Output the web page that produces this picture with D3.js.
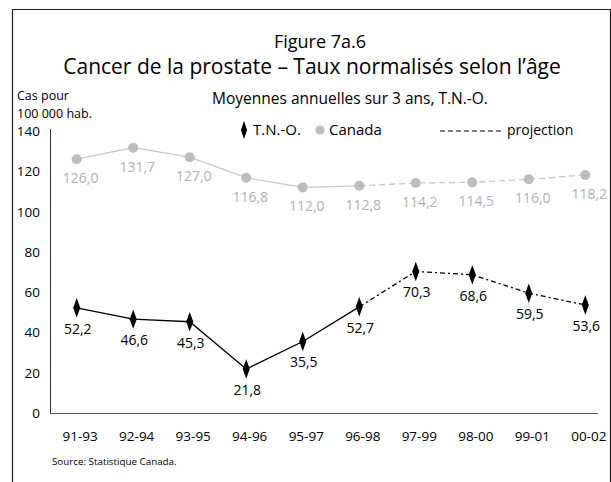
<!DOCTYPE html>
<html lang="fr">
<head>
<meta charset="UTF-8">
<title>Figure 7a.6</title>
<script src="https://d3js.org/d3.v7.min.js"></script>
<style>
  body { margin: 0; background: #fff; }
  svg text { font-family: "Open Sans", "Noto Sans", sans-serif; fill: #000; }
</style>
</head>
<body>
<svg id="chart" width="611" height="482"></svg>
<script>
  // data
  const periods = ["91-93", "92-94", "93-95", "94-96", "95-97", "96-98", "97-99", "98-00", "99-01", "00-02"];
  const tno = [52.2, 46.6, 45.3, 21.8, 35.5, 52.7, 70.3, 68.6, 59.5, 53.6];
  const canada = [126.0, 131.7, 127.0, 116.8, 112.0, 112.8, 114.2, 114.5, 116.0, 118.2];
  const yTicks = [0, 20, 40, 60, 80, 100, 120, 140];
  const lastActual = "96-98"; // after this, projection

  const svg = d3.select("#chart");

  // frame
  svg.append("path")
    .attr("d", "M12.5,482 V9.5 H610.5 V482")
    .attr("fill", "none").attr("stroke", "#222").attr("stroke-width", 1.2);

  const x = d3.scalePoint().domain(periods).range([76.7, 585.3]);
  const y = d3.scaleLinear().domain([0, 140]).range([413, 131]);
  const fmt = v => v.toFixed(1).replace(".", ",");

  // titles
  svg.append("text").attr("x", 320).attr("y", 48).attr("text-anchor", "middle")
    .style("font-size", "18px").text("Figure 7a.6");
  svg.append("text").attr("x", 312).attr("y", 74).attr("text-anchor", "middle")
    .style("font-size", "21px").text("Cancer de la prostate – Taux normalisés selon l’âge");
  svg.append("text").attr("x", 350).attr("y", 104).attr("text-anchor", "middle")
    .style("font-size", "15.5px").text("Moyennes annuelles sur 3 ans, T.N.-O.");
  svg.append("text").attr("x", 17).attr("y", 100).style("font-size", "12.5px").text("Cas pour");
  svg.append("text").attr("x", 17).attr("y", 118).style("font-size", "12.5px").text("100 000 hab.");

  // axes
  svg.append("line").attr("x1", 50.5).attr("x2", 50.5).attr("y1", 129).attr("y2", 413)
    .attr("stroke", "#333");
  svg.append("line").attr("x1", 50).attr("x2", 598).attr("y1", 413.5).attr("y2", 413.5)
    .attr("stroke", "#555");
  svg.selectAll(".ytick").data(yTicks).join("text")
    .attr("class", "ytick")
    .attr("x", 40).attr("y", d => y(d) + 5)
    .attr("text-anchor", "end").style("font-size", "13.5px")
    .text(d => d);
  svg.selectAll(".xtick").data(periods).join("text")
    .attr("class", "xtick")
    .attr("x", d => x(d) + 3.5).attr("y", 441)
    .attr("text-anchor", "middle").style("font-size", "13.5px")
    .text(d => d);

  // legend
  const diamond = d3.symbol().type(d3.symbolDiamond).size(60);
  svg.append("path").attr("d", diamond()).attr("transform", "translate(244,130) scale(0.75,1.25)")
    .attr("fill", "#000");
  svg.append("text").attr("x", 253).attr("y", 135).style("font-size", "15px").text("T.N.-O.");
  svg.append("circle").attr("cx", 320).attr("cy", 130).attr("r", 4.5).attr("fill", "#c0c0c0");
  svg.append("text").attr("x", 329).attr("y", 135).style("font-size", "15px").text("Canada");
  svg.append("line").attr("x1", 440).attr("x2", 503).attr("y1", 131).attr("y2", 131)
    .attr("stroke", "#000").attr("stroke-width", 1.2).attr("stroke-dasharray", "5,3");
  svg.append("text").attr("x", 507).attr("y", 135).style("font-size", "14px").text("projection");

  function drawSeries(vals, color, dash) {
    const pts = periods.map((p, i) => ({ p, v: vals[i], i }));
    const cut = periods.indexOf(lastActual);
    const line = d3.line().x(d => x(d.p)).y(d => y(d.v));
    svg.append("path").datum(pts.slice(0, cut + 1))
      .attr("d", line).attr("fill", "none").attr("stroke", color).attr("stroke-width", 1.3);
    svg.append("path").datum(pts.slice(cut))
      .attr("d", line).attr("fill", "none").attr("stroke", color).attr("stroke-width", 1.3)
      .attr("stroke-dasharray", dash);
    return pts;
  }

  // Canada
  const cPts = drawSeries(canada, "#c8c8c8", "6,4");
  svg.selectAll(".cdot").data(cPts).join("circle")
    .attr("class", "cdot")
    .attr("cx", d => x(d.p)).attr("cy", d => y(d.v)).attr("r", 5)
    .attr("fill", "#bdbdbd");
  svg.selectAll(".clab").data(cPts).join("text")
    .attr("class", "clab")
    .attr("x", d => x(d.p) + 4).attr("y", d => y(d.v) + 24)
    .attr("text-anchor", "middle").style("font-size", "14px").style("fill", "#b0b0b0")
    .text(d => fmt(d.v));

  // T.N.-O.
  const tPts = drawSeries(tno, "#000", "5,3,2,3");
  svg.selectAll(".tdot").data(tPts).join("path")
    .attr("class", "tdot")
    .attr("d", diamond())
    .attr("transform", d => `translate(${x(d.p)},${y(d.v)}) scale(0.85,1.35)`)
    .attr("fill", "#000");
  svg.selectAll(".tlab").data(tPts).join("text")
    .attr("class", "tlab")
    .attr("x", d => x(d.p) + 1).attr("y", d => y(d.v) + 26)
    .attr("text-anchor", "middle").style("font-size", "14px")
    .text(d => fmt(d.v));

  // source
  svg.append("text").attr("x", 52).attr("y", 465).style("font-size", "9.8px")
    .text("Source: Statistique Canada.");
</script>
</body>
</html>
